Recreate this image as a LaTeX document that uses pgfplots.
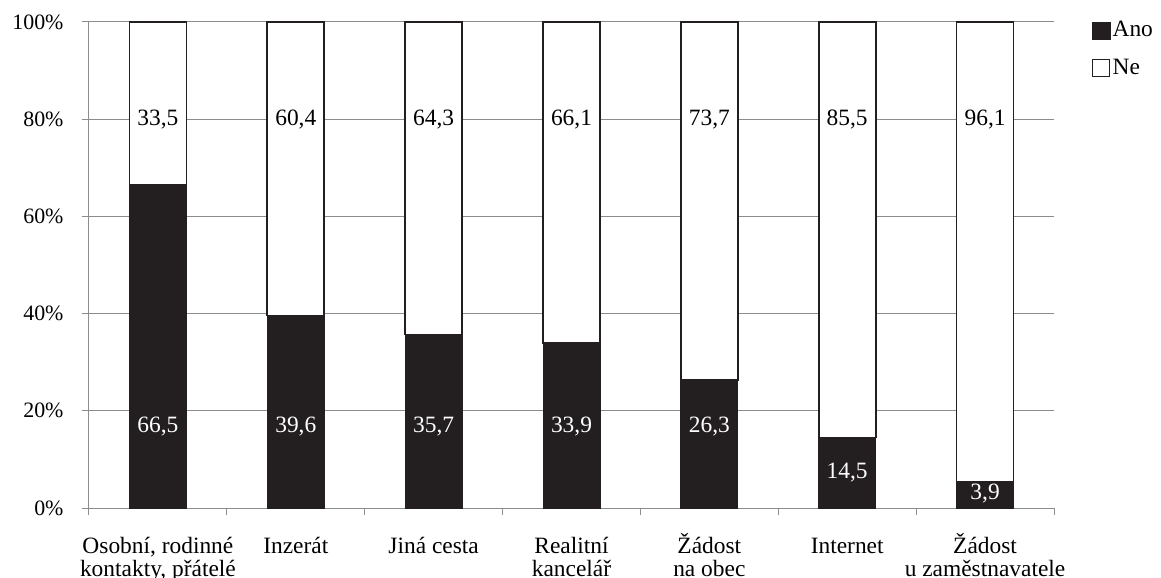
\documentclass[border=0pt]{standalone}
\usepackage{fontspec}
\setmainfont{Liberation Serif}
\usepackage{pgfplots}
\pgfplotsset{compat=1.18}
\definecolor{barblack}{HTML}{231F20}
\definecolor{gridgray}{HTML}{8C8C8C}
\newcommand{\bigf}{\fontsize{23.5}{23}\selectfont}
\begin{document}
\fontsize{22}{22}\selectfont
\begin{tikzpicture}
\begin{axis}[
  scale only axis, width=965bp, height=486bp,
  at={(0,0)}, anchor=south west,
  ybar stacked, bar width=57bp,
  xmin=-0.5, xmax=6.5, ymin=0, ymax=100,
  axis lines*=left,
  axis line style={gridgray, line width=1bp, -},
  xtick={-0.5,0.5,...,6.5},
  x tick label as interval,
  xticklabels={{Osobní, rodinné\vphantom{Ž}\\kontakty, přátelé},Inzerát\vphantom{Ž},Jiná cesta\vphantom{Ž},{Realitní\vphantom{Ž}\\kancelář},{Žádost\\na obec},Internet\vphantom{Ž},{Žádost\\u zaměstnavatele}},
  xticklabel style={align=center, anchor=north, yshift=-18bp, inner sep=0pt, font=\bigf},
  ytick={0,20,40,60,80,100},
  yticklabels={0\%,20\%,40\%,60\%,80\%,100\%},
  yticklabel style={xshift=-11bp},
  tick align=outside, major tick length=7bp,
  tick style={gridgray, line width=1bp},
  ymajorgrids, major grid style={gridgray, line width=1bp},
  legend style={draw=none, fill=none, at={(1.039,1.006)}, anchor=north west, row sep=15bp, legend cell align=left, inner sep=0pt, font=\bigf},
  after end axis/.code={
    \node[white, font=\bigf] at (axis cs:0,16.7) {66,5};
    \node[white, font=\bigf] at (axis cs:1,16.7) {39,6};
    \node[white, font=\bigf] at (axis cs:2,16.7) {35,7};
    \node[white, font=\bigf] at (axis cs:3,16.7) {33,9};
    \node[white, font=\bigf] at (axis cs:4,16.7) {26,3};
    \node[white, font=\bigf] at (axis cs:5,7.2) {14,5};
    \node[white, font=\bigf] at (axis cs:6,2.9) {3,9};
    \node[black, font=\bigf] at (axis cs:0,80) {33,5};
    \node[black, font=\bigf] at (axis cs:1,80) {60,4};
    \node[black, font=\bigf] at (axis cs:2,80) {64,3};
    \node[black, font=\bigf] at (axis cs:3,80) {66,1};
    \node[black, font=\bigf] at (axis cs:4,80) {73,7};
    \node[black, font=\bigf] at (axis cs:5,80) {85,5};
    \node[black, font=\bigf] at (axis cs:6,80) {96,1};
  },
]
\addplot[fill=barblack, draw=barblack, line width=1bp,
  legend image code/.code={\draw[fill=barblack,draw=barblack,line width=0.8bp] (0bp,-8.5bp) rectangle (18bp,8.5bp);}]
  coordinates {(0,66.5) (1,39.6) (2,35.7) (3,33.9) (4,26.3) (5,14.5) (6,5.4)};
\addplot[fill=white, draw=barblack, line width=1.8bp,
  legend image code/.code={\draw[fill=white,draw=barblack,line width=0.8bp] (0bp,-8.5bp) rectangle (17bp,8.5bp);}]
  coordinates {(0,33.5) (1,60.4) (2,64.3) (3,66.1) (4,73.7) (5,85.5) (6,94.6)};
\legend{Ano,Ne}
\end{axis}
\pgfresetboundingbox
\useasboundingbox (-89bp,-70bp) rectangle (1072bp,508bp);
\end{tikzpicture}
\end{document}
